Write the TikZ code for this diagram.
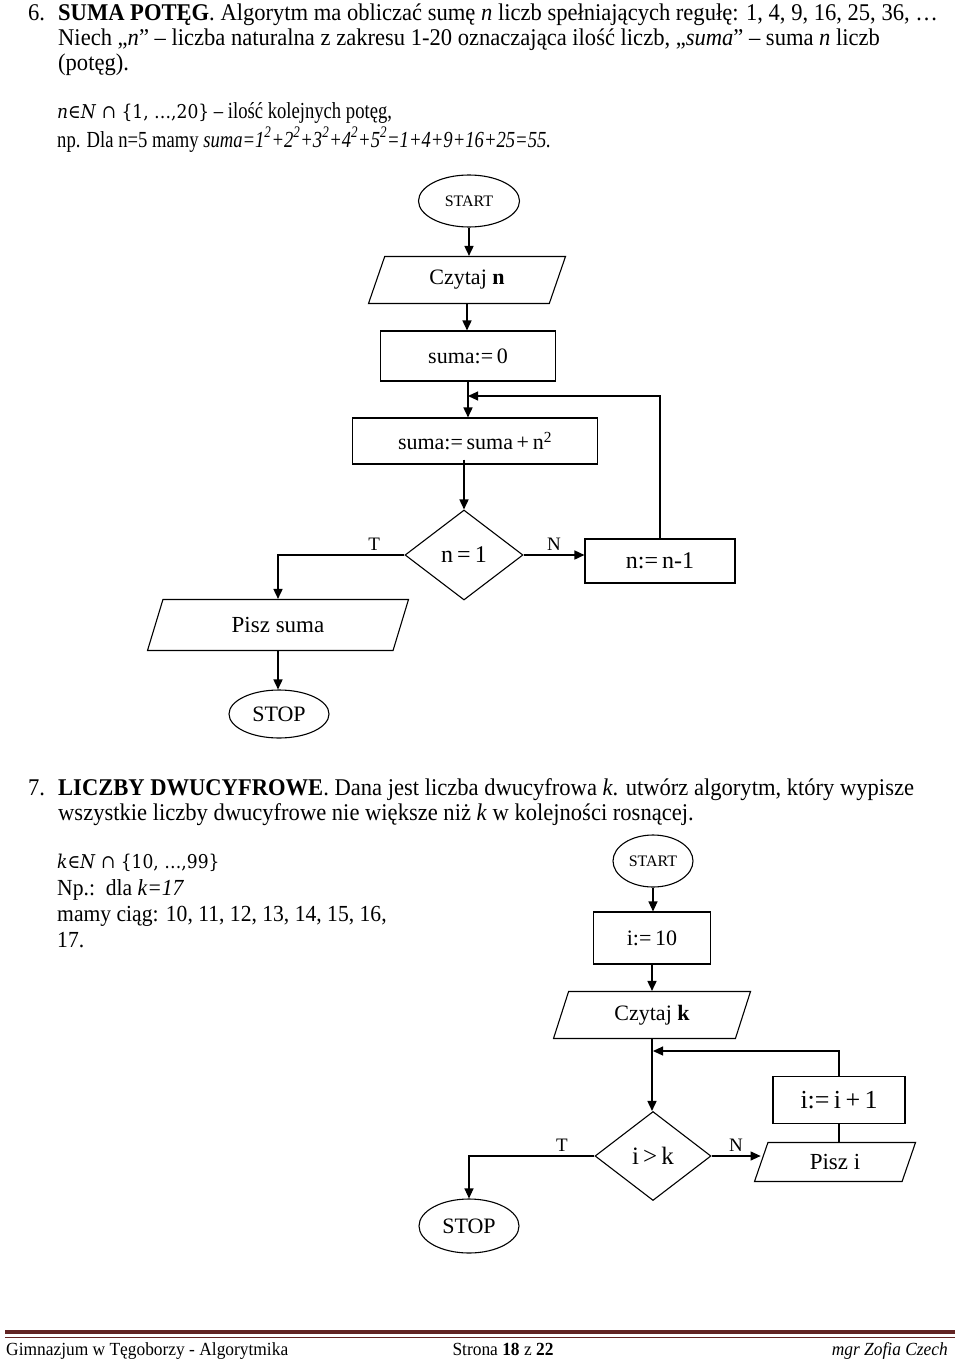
\documentclass[tikz,border=0pt]{standalone}
\usepackage{fontspec}
\setmainfont{Liberation Serif}
\newfontfamily\bodyfont[FakeStretch=0.94]{Liberation Serif}
\newfontfamily\notefont[FakeStretch=0.81]{Liberation Serif}
\newfontfamily\symfont[FakeStretch=0.9]{DejaVu Serif}
\usetikzlibrary{shapes.geometric,arrows.meta}
\definecolor{footred}{HTML}{622423}

\begin{document}
\begin{tikzpicture}[x=1pt, y=-1pt, >={Triangle[length=10pt,width=9pt]},
	every node/.style={font=\fontsize{22}{26}\selectfont},
	term/.style={draw, ellipse, line width=1.1pt, inner sep=0pt, font=\fontsize{16}{18}\selectfont},
	proc/.style={draw, rectangle, line width=1.1pt, inner sep=0pt},
	io/.style={draw, trapezium, trapezium left angle=50, trapezium right angle=130, trapezium stretches body, line width=1.1pt, inner sep=0pt},
	cond/.style={draw, diamond, line width=1.1pt, inner sep=0pt, font=\fontsize{24}{26}\selectfont},
	lbl/.style={font=\fontsize{19}{22}\selectfont, inner sep=4pt},
	txt/.style={anchor=base west, inner sep=0pt, font=\bodyfont\fontsize{24}{26}\selectfont},
	note/.style={txt, font=\notefont\fontsize{23}{26}\selectfont},
	flow/.style={line width=1.6pt}]
	\useasboundingbox (0,0) rectangle (960,1362);

	% zadanie 6
	\node[txt] (num6) at (28,21) {6.};
	\node[txt] (h6a) at (58,21) {\textbf{SUMA POTĘG}. Algorytm ma obliczać sumę \textit{n} liczb spełniających regułę: 1, 4, 9, 16, 25, 36, …};
	\node[txt] (h6b) at (58,46) {Niech „\textit{n}” – liczba naturalna z zakresu 1-20 oznaczająca ilość liczb, „\textit{suma}” – suma \textit{n} liczb};
	\node[txt] (h6c) at (58,71) {(potęg).};
	\node[note] (h6d) at (57,119) {{\symfont\fontsize{19}{22}\selectfont\textit{n}∈\textit{N} ∩ \{1, …,20\}} – ilość kolejnych potęg,};
	\node[note] (h6e) at (57,147) {np. Dla n=5 mamy \textit{suma=1\textsuperscript{2}+2\textsuperscript{2}+3\textsuperscript{2}+4\textsuperscript{2}+5\textsuperscript{2}=1+4+9+16+25=55.}};

	\node[term, minimum width=101pt, minimum height=52pt] (start1) at (469,201) {START};
	\node[io, minimum width=197pt, minimum height=47pt] (read1) at (467,280) {Czytaj \textbf{n}};
	\node[proc, minimum width=175pt, minimum height=50pt] (zero1) at (468,356) {suma:=\,0};
	\node[proc, minimum width=245pt, minimum height=46pt] (add1) at (475,441) {suma:=\,suma\,+\,n\textsuperscript{2}};
	\node[cond, minimum width=118pt, minimum height=90pt] (test1) at (464,555) {n\,=\,1};
	\node[proc, minimum width=150pt, minimum height=44pt, font=\fontsize{24}{26}\selectfont] (dec1) at (660,561) {n:=\,n-1};
	\node[io, trapezium left angle=45, trapezium right angle=135, minimum width=261pt, minimum height=51pt, font=\fontsize{23}{26}\selectfont] (write1) at (278,625) {Pisz suma};
	\node[term, minimum width=100pt, minimum height=48pt, font=\fontsize{22}{24}\selectfont] (stop1) at (279,714) {STOP};
	\coordinate (loop1) at (468,396);

	\draw[flow, ->] (start1) -- (start1 |- read1.north);
	\draw[flow, ->] (read1) -- (read1 |- zero1.north);
	\draw[flow, ->] (zero1) -- (zero1 |- add1.north);
	\draw[line width=1.1pt, ->] (dec1.north) |- (loop1);
	\draw[flow, ->] ([yshift=5pt]test1 |- add1.south) -- (test1.north);
	\draw[flow, ->] (test1.east) -- (test1.east -| dec1.west) node[lbl, midway, above] {N};
	\draw[flow, ->] (test1.west) -| (write1.north) node[lbl, pos=0.12, above] {T};
	\draw[flow, ->] (write1) -- (write1 |- stop1.north);

	% zadanie 7
	\node[txt] (num7) at (28,795) {7.};
	\node[txt] (h7a) at (58,795) {\textbf{LICZBY DWUCYFROWE}. Dana jest liczba dwucyfrowa \textit{k}. utwórz algorytm, który wypisze};
	\node[txt] (h7b) at (58,820) {wszystkie liczby dwucyfrowe nie większe niż \textit{k} w kolejności rosnącej.};
	\node[txt, font=\symfont\fontsize{19}{22}\selectfont] (h7c) at (57,868) {\textit{k}∈\textit{N} ∩ \{10, …,99\}};
	\node[txt, font=\bodyfont\fontsize{23}{26}\selectfont] (h7d) at (57,895) {Np.:\ \ dla \textit{k=17}};
	\node[txt, font=\bodyfont\fontsize{23}{26}\selectfont] (h7e) at (57,921) {mamy ciąg: 10, 11, 12, 13, 14, 15, 16,};
	\node[txt, font=\bodyfont\fontsize{23}{26}\selectfont] (h7f) at (57,947) {17.};

	\node[term, minimum width=80pt, minimum height=52pt] (start2) at (653,861) {START};
	\node[proc, minimum width=117pt, minimum height=52pt] (init2) at (652,938) {i:=\,10};
	\node[io, trapezium left angle=53, trapezium right angle=127, minimum width=197pt, minimum height=47pt] (read2) at (652,1015) {Czytaj \textbf{k}};
	\node[cond, minimum width=116pt, minimum height=89pt, font=\fontsize{25}{26}\selectfont] (test2) at (653,1156) {i\,>\,k};
	\node[proc, minimum width=132pt, minimum height=47pt, font=\fontsize{26}{28}\selectfont] (inc2) at (839,1100) {i:=\,i\,+\,1};
	\node[io, trapezium left angle=49, trapezium right angle=131, minimum width=161pt, minimum height=39pt, font=\fontsize{23}{26}\selectfont] (write2) at (835,1162) {Pisz i};
	\node[term, minimum width=100pt, minimum height=54pt, font=\fontsize{22}{24}\selectfont] (stop2) at (469,1226) {STOP};
	\coordinate (loop2) at (653,1051);

	\draw[line width=1.1pt, ->] (start2) -- (start2 |- init2.north);
	\draw[flow, ->] (init2) -- (init2 |- read2.north);
	\draw[flow, ->] (read2) -- (read2 |- test2.north);
	\draw[line width=1.1pt] (inc2.south) -- (inc2.south |- write2.north);
	\draw[line width=1.1pt, ->] (inc2.north) |- (loop2);
	\draw[line width=1.1pt, ->] (test2.east) -- (test2.east -| write2.west) node[lbl, midway, above] {N};
	\draw[line width=1.1pt, ->] (test2.west) -| (stop2.north) node[lbl, pos=0.13, above] {T};

	% stopka
	\draw[footred, line width=3.5pt] (5,1332) -- (955,1332);
	\draw[footred, line width=1pt] (5,1337.5) -- (955,1337.5);
	\node[txt, font=\bodyfont\fontsize{18.5}{20}\selectfont] (foot1) at (6,1355) {Gimnazjum w Tęgoborzy - Algorytmika};
	\node[txt, anchor=base, font=\bodyfont\fontsize{18.5}{20}\selectfont] (foot2) at (503,1355) {Strona \textbf{18} z \textbf{22}};
	\node[txt, anchor=base east, font=\bodyfont\fontsize{18.5}{20}\selectfont] (foot3) at (948,1355) {\textit{mgr Zofia Czech}};
\end{tikzpicture}
\end{document}
